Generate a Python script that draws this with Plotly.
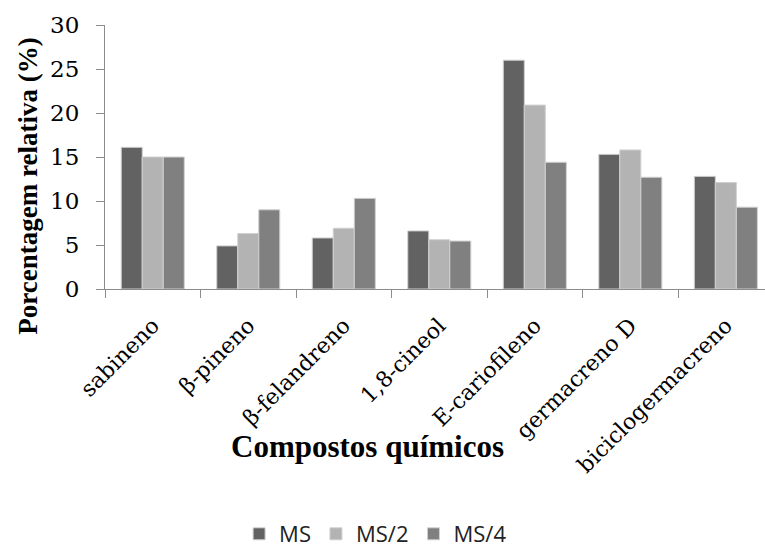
import plotly.graph_objects as go

# Essential-oil composition by treatment
compostos = ["sabineno", "β-pineno", "β-felandreno", "1,8-cineol",
             "E-cariofileno", "germacreno D", "biciclogermacreno"]
ms = [16.1, 4.9, 5.8, 6.6, 26.0, 15.3, 12.8]
ms2 = [15.0, 6.3, 6.9, 5.6, 20.9, 15.8, 12.1]
ms4 = [15.0, 9.0, 10.3, 5.45, 14.4, 12.7, 9.3]

series = [("MS", ms, "#626262"), ("MS/2", ms2, "#b3b3b3"), ("MS/4", ms4, "#808080")]

fig = go.Figure()
for name, vals, color in series:
    fig.add_trace(go.Bar(
        x=compostos, y=vals, name=name,
        marker=dict(color=color, line=dict(color="#d0d0d0", width=1)),
    ))

serif = "Liberation Serif, Times New Roman, serif"
wide_serif = "DejaVu Serif, serif"
axis_color = "#8c8c8c"

fig.update_layout(
    width=765, height=555,
    margin=dict(l=105, r=0, t=25, b=264),
    paper_bgcolor="white", plot_bgcolor="white",
    barmode="group", bargap=0.34, bargroupgap=0,
    font=dict(family=serif, color="black"),
    showlegend=True,
    legend=dict(orientation="h", x=0.41, xanchor="center", y=-0.93, yanchor="middle",
                font=dict(family="Open Sans, Liberation Sans, sans-serif", size=22, color="#222"),
                itemwidth=30, traceorder="normal"),
    xaxis=dict(
        range=[-0.5, 6.41], showline=True, linecolor=axis_color, linewidth=1,
        ticks="outside", tickson="boundaries", ticklen=8, tickcolor=axis_color,
        ticklabelstandoff=14,
        tickangle=-45, tickfont=dict(family=wide_serif, size=22, color="black"),
        showgrid=False,
    ),
    yaxis=dict(
        range=[0, 30], dtick=5, showline=True, linecolor=axis_color, linewidth=1,
        ticks="outside", ticklen=8, tickcolor=axis_color, ticklabelstandoff=12,
        tickfont=dict(family=wide_serif, size=23, color="black"),
        showgrid=False, zeroline=False,
    ),
    annotations=[
        dict(text="<b>Porcentagem relativa (%)</b>", textangle=-90,
             xref="paper", yref="paper", x=(28 - 105) / 660, y=(291 - 188) / 266,
             xanchor="center", yanchor="middle", showarrow=False,
             font=dict(family=serif, size=27, color="black")),
        dict(text="<b>Compostos químicos</b>",
             xref="paper", yref="paper", x=(367 - 105) / 660, y=(291 - 450) / 266,
             xanchor="center", yanchor="middle", showarrow=False,
             font=dict(family=serif, size=31, color="black")),
    ],
)

fig.write_html("out.html")
